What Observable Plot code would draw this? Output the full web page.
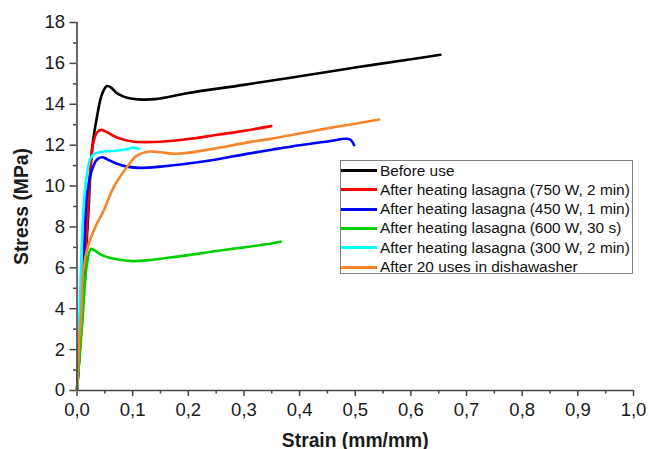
<!DOCTYPE html>
<html>
<head>
<meta charset="utf-8">
<script src="https://cdn.jsdelivr.net/npm/d3@7"></script>
<script src="https://cdn.jsdelivr.net/npm/@observablehq/plot@0.6"></script>
<style>
  html, body { margin: 0; padding: 0; background: #fff; }
  #wrap { position: relative; width: 649px; height: 449px; font-family: "Liberation Sans", Arial, sans-serif; }
  .chart [aria-label="x-axis label"] text, .chart [aria-label="y-axis label"] text { font-weight: bold; font-size: 19.3px; }
  .chart [aria-label="x-axis tick label"] text, .chart [aria-label="y-axis tick label"] text { font-size: 18.5px; }
  #legend { position: absolute; left: 340px; top: 160px; width: 293px; height: 114px; border: 1px solid #808080; box-sizing: border-box; background: #fff; }
  .row { position: absolute; left: 0; height: 19px; display: flex; align-items: center; font-size: 15.4px; color: #111; white-space: nowrap; }
  .swatch { width: 36px; height: 3px; margin-right: 3px; }
</style>
</head>
<body>
<div id="wrap"></div>
<script>
const seriesNames = [
  "Before use",
  "After heating lasagna (750 W, 2 min)",
  "After heating lasagna (450 W, 1 min)",
  "After heating lasagna (600 W, 30 s)",
  "After heating lasagna (300 W, 2 min)",
  "After 20 uses in dishawasher"
];
const seriesColors = ["#000000", "#ff0000", "#0000ff", "#00d000", "#00ffff", "#f5842c"];

const strainBefore = [0, 0.012, 0.02, 0.027, 0.036, 0.045, 0.054, 0.062, 0.07, 0.08, 0.09, 0.11, 0.14, 0.2, 0.3, 0.4, 0.5, 0.6, 0.653];
const stressBefore = [0, 5, 8.5, 11.8, 13.4, 14.5, 14.89, 14.8, 14.58, 14.42, 14.32, 14.24, 14.25, 14.55, 14.95, 15.37, 15.8, 16.2, 16.42];

const strain750 = [0, 0.01, 0.018, 0.024, 0.03, 0.036, 0.044, 0.055, 0.066, 0.08, 0.1, 0.12, 0.15, 0.2, 0.25, 0.3, 0.349];
const stress750 = [0, 4, 8, 10.8, 12.2, 12.62, 12.75, 12.62, 12.45, 12.3, 12.18, 12.15, 12.17, 12.3, 12.5, 12.7, 12.93];

const strain450 = [0, 0.01, 0.018, 0.027, 0.036, 0.045, 0.055, 0.072, 0.09, 0.114, 0.15, 0.2, 0.25, 0.3, 0.35, 0.4, 0.45, 0.485, 0.492, 0.498];
const stress450 = [0, 4.5, 9.6, 10.8, 11.3, 11.41, 11.3, 11.09, 10.95, 10.89, 10.95, 11.1, 11.3, 11.55, 11.78, 12.0, 12.18, 12.31, 12.25, 12.0];

const strain600 = [0, 0.01, 0.018, 0.025, 0.03, 0.045, 0.06, 0.08, 0.1, 0.13, 0.16, 0.2, 0.25, 0.3, 0.34, 0.366];
const stress600 = [0, 3.5, 6.2, 6.93, 6.88, 6.62, 6.48, 6.38, 6.33, 6.38, 6.48, 6.62, 6.82, 7.0, 7.15, 7.28];

const strain300 = [0, 0.006, 0.012, 0.018, 0.024, 0.03, 0.04, 0.05, 0.07, 0.09, 0.1, 0.111];
const stress300 = [0, 5, 9, 10.6, 11.35, 11.55, 11.65, 11.7, 11.73, 11.8, 11.88, 11.82];

const strainDish = [0, 0.003, 0.008, 0.012, 0.021, 0.033, 0.048, 0.066, 0.09, 0.108, 0.132, 0.15, 0.18, 0.24, 0.3, 0.35, 0.4, 0.45, 0.5, 0.543];
const stressDish = [0, 2, 4, 6, 7.17, 8, 8.8, 9.95, 10.93, 11.5, 11.69, 11.65, 11.58, 11.8, 12.1, 12.32, 12.57, 12.82, 13.05, 13.26];

const xTicks = [0, 0.1, 0.2, 0.3, 0.4, 0.5, 0.6, 0.7, 0.8, 0.9, 1.0];
const xMinorTicks = [0.05, 0.15, 0.25, 0.35, 0.45, 0.55, 0.65, 0.75, 0.85, 0.95];
const yTicks = [0, 2, 4, 6, 8, 10, 12, 14, 16, 18];
const yMinorTicks = [1, 3, 5, 7, 9, 11, 13, 15, 17];

const allStrain = [strainBefore, strain750, strain450, strain600, strain300, strainDish];
const allStress = [stressBefore, stress750, stress450, stress600, stress300, stressDish];
const data = [];
seriesNames.forEach((name, i) => {
  allStrain[i].forEach((x, j) => data.push({series: name, strain: x, stress: allStress[i][j], order: i}));
});

const fmt = d => d.toFixed(1).replace(".", ",");

const chart = Plot.plot({
  className: "chart",
  width: 649,
  height: 449,
  marginLeft: 76.5,
  marginRight: 16,
  marginTop: 22,
  marginBottom: 59,
  style: {fontFamily: "'Liberation Sans', Arial, sans-serif", fontSize: "18px", color: "#1a1a1a", background: "#fff"},
  x: {domain: [0, 1]},
  y: {domain: [0, 18]},
  color: {domain: seriesNames, range: seriesColors},
  marks: [
    Plot.axisX({ticks: xTicks, tickFormat: fmt, tickSize: 6, tickPadding: 6, strokeWidth: 1.5, stroke: "#444",
      label: "Strain (mm/mm)", labelAnchor: "center", labelArrow: "none", labelOffset: 56}),
    Plot.axisX({ticks: xMinorTicks, tickFormat: () => "", tickSize: 3.5, strokeWidth: 1.5, stroke: "#444", label: null}),
    Plot.axisY({ticks: yTicks, tickFormat: d => String(d), tickSize: 7, tickPadding: 5, strokeWidth: 1.5, stroke: "#444",
      label: "Stress (MPa)", labelAnchor: "center", labelArrow: "none", labelOffset: 63}),
    Plot.axisY({ticks: yMinorTicks, tickFormat: () => "", tickSize: 3.5, strokeWidth: 1.5, stroke: "#444", label: null}),
    Plot.line(data, {x: "strain", y: "stress", z: "series", stroke: "series", strokeWidth: 2.6, curve: "catmull-rom"}),
    Plot.ruleX([0], {stroke: "#444", strokeWidth: 1.6}),
    Plot.ruleY([0], {stroke: "#444", strokeWidth: 1.6})
  ]
});

const wrap = document.getElementById("wrap");
wrap.appendChild(chart);

const legend = document.createElement("div");
legend.id = "legend";
seriesNames.forEach((name, i) => {
  const row = document.createElement("div");
  row.className = "row";
  row.style.top = (i * 19.3) + "px";
  const sw = document.createElement("div");
  sw.className = "swatch";
  sw.style.background = seriesColors[i];
  const t = document.createElement("span");
  t.textContent = name;
  row.appendChild(sw);
  row.appendChild(t);
  legend.appendChild(row);
});
wrap.appendChild(legend);
</script>
</body>
</html>
